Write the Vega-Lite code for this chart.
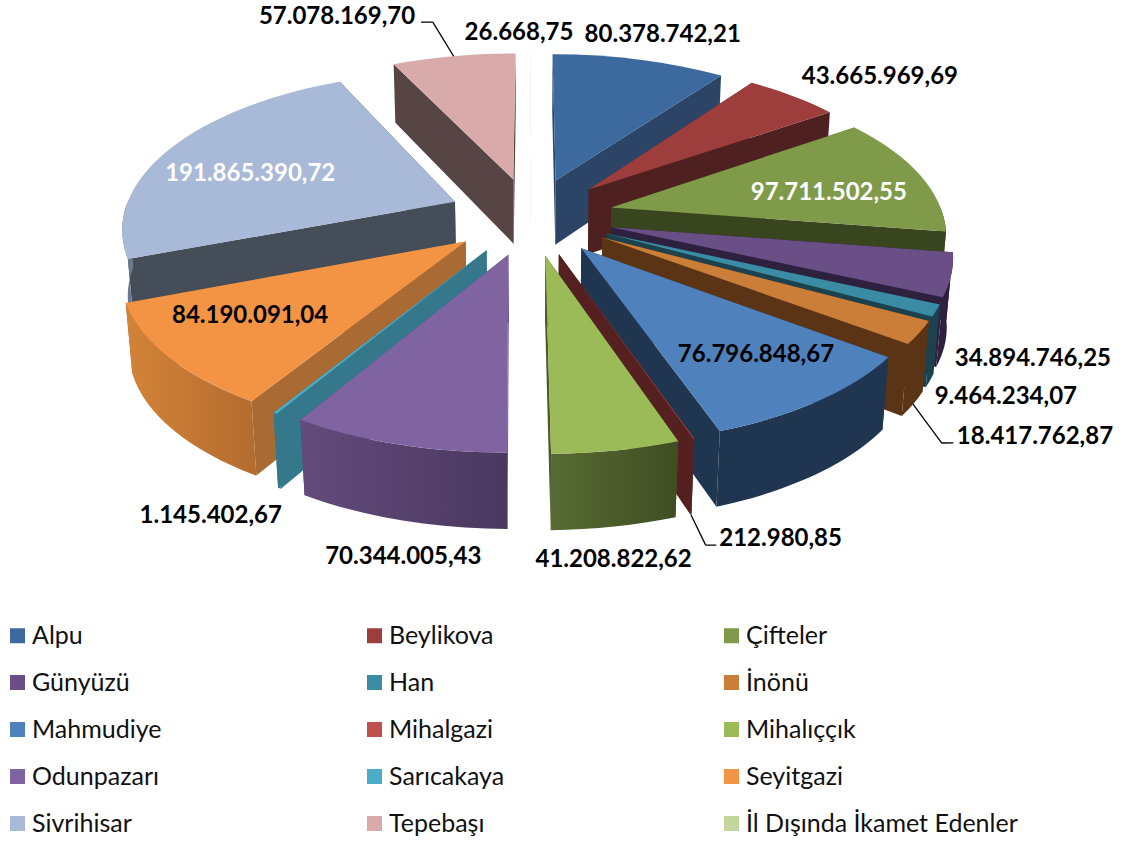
{
"$schema":"https://vega.github.io/schema/vega-lite/v6.json",
"width":1123,"height":841,"padding":0,"autosize":{"type":"none"},
"background":"white",
"view":{"stroke":null},
"params":[
{"name":"Cx","value":531},{"name":"Cy","value":216},{"name":"Rx","value":332},{"name":"Ry","value":155},
{"name":"Pk","value":0.15},{"name":"Qk","value":0.015},{"name":"Hk","value":67},{"name":"Ek","value":0.25},
{"name":"RXA","value":334},{"name":"RYA","value":158.5},
{"name":"Lcx","value":533},{"name":"Lrx","value":334},{"name":"Lry","value":154}
],
"data":{"values":[
{"sira":1,"ilce":"Alpu","deger":80378742.21,"etiket":"80.378.742,21"},
{"sira":2,"ilce":"Beylikova","deger":43665969.69,"etiket":"43.665.969,69"},
{"sira":3,"ilce":"Çifteler","deger":97711502.55,"etiket":"97.711.502,55"},
{"sira":4,"ilce":"Günyüzü","deger":34894746.25,"etiket":"34.894.746,25"},
{"sira":5,"ilce":"Han","deger":9464234.07,"etiket":"9.464.234,07"},
{"sira":6,"ilce":"İnönü","deger":18417762.87,"etiket":"18.417.762,87"},
{"sira":7,"ilce":"Mahmudiye","deger":76796848.67,"etiket":"76.796.848,67"},
{"sira":8,"ilce":"Mihalgazi","deger":212980.85,"etiket":"212.980,85"},
{"sira":9,"ilce":"Mihalıççık","deger":41208822.62,"etiket":"41.208.822,62"},
{"sira":10,"ilce":"Odunpazarı","deger":70344005.43,"etiket":"70.344.005,43"},
{"sira":11,"ilce":"Sarıcakaya","deger":1145402.67,"etiket":"1.145.402,67"},
{"sira":12,"ilce":"Seyitgazi","deger":84190091.04,"etiket":"84.190.091,04"},
{"sira":13,"ilce":"Sivrihisar","deger":191865390.72,"etiket":"191.865.390,72"},
{"sira":14,"ilce":"Tepebaşı","deger":57078169.70,"etiket":"57.078.169,70"},
{"sira":15,"ilce":"İl Dışında İkamet Edenler","deger":26668.75,"etiket":"26.668,75"}
]},
"transform":[
{"joinaggregate":[{"op":"sum","field":"deger","as":"toplam"}]},
{"window":[{"op":"sum","field":"deger","as":"cum"}],"sort":[{"field":"sira","order":"ascending"}]},
{"calculate":"2*PI*datum.cum/datum.toplam","as":"t1"},
{"calculate":"2*PI*(datum.cum-datum.deger)/datum.toplam","as":"t0"},
{"calculate":"(datum.t0+datum.t1)/2","as":"tm"},
{"calculate":"Ek*sin(datum.tm)","as":"ex"},
{"calculate":"Ek*cos(datum.tm)","as":"ey"},
{"calculate":"Cx+Rx*datum.ex/(1+Pk*datum.ey)","as":"ax"},
{"calculate":"Cy-Ry*datum.ey/(1+Pk*datum.ey)","as":"ay"},
{"calculate":"round(10*(Cx+Rx*datum.ex/(1+Pk*datum.ey+Qk)-datum.ax))/10","as":"abx"},
{"calculate":"round(10*(Cy+(Hk-Ry*datum.ey)/(1+Pk*datum.ey+Qk)-datum.ay))/10","as":"aby"},
{"calculate":"clamp(datum.t0,PI/2,3*PI/2)","as":"r0"},
{"calculate":"clamp(datum.t1,PI/2,3*PI/2)","as":"r1"},
{"calculate":"datum.ex+sin(datum.t0)","as":"X0"},{"calculate":"datum.ey+cos(datum.t0)","as":"Y0"},
{"calculate":"datum.ex+sin(datum.t1)","as":"X1"},{"calculate":"datum.ey+cos(datum.t1)","as":"Y1"},
{"calculate":"datum.ex+sin(datum.r0)","as":"XR0"},{"calculate":"datum.ey+cos(datum.r0)","as":"YR0"},
{"calculate":"datum.ex+sin(datum.r1)","as":"XR1"},{"calculate":"datum.ey+cos(datum.r1)","as":"YR1"},
{"calculate":"round(10*(Cx+Rx*datum.X0/(1+Pk*datum.Y0)-datum.ax))/10","as":"px0"},
{"calculate":"round(10*(Cy-Ry*datum.Y0/(1+Pk*datum.Y0)-datum.ay))/10","as":"py0"},
{"calculate":"round(10*(Cx+Rx*datum.X1/(1+Pk*datum.Y1)-datum.ax))/10","as":"px1"},
{"calculate":"round(10*(Cy-Ry*datum.Y1/(1+Pk*datum.Y1)-datum.ay))/10","as":"py1"},
{"calculate":"round(10*(Cx+Rx*datum.X0/(1+Pk*datum.Y0+Qk)-datum.ax))/10","as":"bx0"},
{"calculate":"round(10*(Cy+(Hk-Ry*datum.Y0)/(1+Pk*datum.Y0+Qk)-datum.ay))/10","as":"by0"},
{"calculate":"round(10*(Cx+Rx*datum.X1/(1+Pk*datum.Y1+Qk)-datum.ax))/10","as":"bx1"},
{"calculate":"round(10*(Cy+(Hk-Ry*datum.Y1)/(1+Pk*datum.Y1+Qk)-datum.ay))/10","as":"by1"},
{"calculate":"round(10*(Cx+Rx*datum.XR0/(1+Pk*datum.YR0)-datum.ax))/10","as":"qx0"},
{"calculate":"round(10*(Cy-Ry*datum.YR0/(1+Pk*datum.YR0)-datum.ay))/10","as":"qy0"},
{"calculate":"round(10*(Cx+Rx*datum.XR1/(1+Pk*datum.YR1)-datum.ax))/10","as":"qx1"},
{"calculate":"round(10*(Cy-Ry*datum.YR1/(1+Pk*datum.YR1)-datum.ay))/10","as":"qy1"},
{"calculate":"round(10*(Cx+Rx*datum.XR0/(1+Pk*datum.YR0+Qk)-datum.ax))/10","as":"sx0"},
{"calculate":"round(10*(Cy+(Hk-Ry*datum.YR0)/(1+Pk*datum.YR0+Qk)-datum.ay))/10","as":"sy0"},
{"calculate":"round(10*(Cx+Rx*datum.XR1/(1+Pk*datum.YR1+Qk)-datum.ax))/10","as":"sx1"},
{"calculate":"round(10*(Cy+(Hk-Ry*datum.YR1)/(1+Pk*datum.YR1+Qk)-datum.ay))/10","as":"sy1"},
{"calculate":"'M0,0L'+datum.px0+','+datum.py0+'A'+RXA+','+RYA+' 0 0 1 '+datum.px1+','+datum.py1+'Z'","as":"yuzey"},
{"calculate":"'M0,0L'+datum.px0+','+datum.py0+'L'+datum.bx0+','+datum.by0+'L'+datum.abx+','+datum.aby+'Z'","as":"kesitA"},
{"calculate":"'M0,0L'+datum.px1+','+datum.py1+'L'+datum.bx1+','+datum.by1+'L'+datum.abx+','+datum.aby+'Z'","as":"kesitB"},
{"calculate":"'M'+datum.qx0+','+datum.qy0+'A'+RXA+','+RYA+' 0 0 1 '+datum.qx1+','+datum.qy1+'L'+datum.sx1+','+datum.sy1+'A'+RXA+','+RYA+' 0 0 0 '+datum.sx0+','+datum.sy0+'Z'","as":"kenar"},
{"calculate":"{'Alpu':[1.521,18.1],'Beylikova':[1.605,48.6],'Çifteler':[0.923,79.6],'Günyüzü':[1.543,121.5],'Han':[1.56,129.4],'İnönü':[1.705,133.4],'Mahmudiye':[0.981,143.1],'Mihalgazi':[1.684,160.4],'Mihalıççık':[1.676,173.8],'Odunpazarı':[1.681,190],'Sarıcakaya':[1.676,206.5],'Seyitgazi':[0.967,233.1],'Sivrihisar':[0.934,288.7],'Tepebaşı':[1.78,335.8],'İl Dışında İkamet Edenler':[1.466,358]}[datum.ilce]","as":"lp"},
{"calculate":"datum.lp[0]*sin(datum.lp[1]*PI/180)","as":"lX"},
{"calculate":"datum.lp[0]*cos(datum.lp[1]*PI/180)","as":"lY"},
{"calculate":"Lcx+Lrx*datum.lX/(1+Pk*datum.lY)","as":"lx"},
{"calculate":"Cy-Lry*datum.lY/(1+Pk*datum.lY)","as":"ly"}
],
"encoding":{
"x":{"field":"ax","type":"quantitative","scale":{"domain":[0,1123],"range":[0,1123]},"axis":null},
"y":{"field":"ay","type":"quantitative","scale":{"domain":[0,841],"range":[0,841]},"axis":null}
},
"layer":[
{
"transform":[
{"fold":["kesitA","kesitB","kenar"],"as":["yuz","yol"]},
{"filter":"datum.yuz!='kenar' || datum.r1>datum.r0+0.001"},
{"calculate":"-cos(datum.tm)*100+(datum.yuz=='kenar'?0.5:0)","as":"sirala"},
{"calculate":"{'Alpu':'#2C4566','Beylikova':'#4F2020','Çifteler':'#39451F','Günyüzü':'#2E2140','Han':'#1D414D','İnönü':'#5A3415','Mahmudiye':'#1F3550','Mihalgazi':'#552020','Mihalıççık':'#4B5A28','Odunpazarı':'#55406F','Sarıcakaya':'#35788C','Seyitgazi':'#A96A33','Sivrihisar':'#454D59','Tepebaşı':'#574545','İl Dışında İkamet Edenler':'#58613F'}[datum.ilce]","as":"koyu"},
{"calculate":"{'Çifteler':['#39451F','#39451F'],'Günyüzü':['#2E2140','#2E2140'],'Han':['#1D414D','#1D414D'],'İnönü':['#5A3415','#5A3415'],'Mahmudiye':['#1F3550','#1F3550'],'Mihalgazi':['#552020','#552020'],'Mihalıççık':['#586B34','#3F4D22'],'Odunpazarı':['#634B7C','#4A385F'],'Sarıcakaya':['#35788C','#35788C'],'Seyitgazi':['#D48338','#B26C2F'],'Sivrihisar':['#6A7890','#6A7890'],'Tepebaşı':['#574545','#574545'],'Alpu':['#2C4566','#2C4566'],'Beylikova':['#4F2020','#4F2020'],'İl Dışında İkamet Edenler':['#58613F','#58613F']}[datum.ilce]","as":"ton"},
{"calculate":"datum.yuz=='kenar' ? {gradient:'linear',x1:0,y1:0,x2:1,y2:0,stops:[{offset:0,color:datum.ton[0]},{offset:1,color:datum.ton[1]}]} : datum.koyu","as":"dolgu"}
],
"mark":{"type":"point","filled":true,"size":4,"opacity":1,"strokeWidth":0},
"encoding":{
"shape":{"field":"yol","type":"nominal","scale":null,"legend":null},
"fill":{"field":"dolgu","type":"nominal","scale":null,"legend":null},
"order":{"field":"sirala","type":"quantitative"}
}
},
{
"mark":{"type":"point","filled":true,"size":4,"opacity":1,"strokeWidth":0},
"encoding":{
"shape":{"field":"yuzey","type":"nominal","scale":null,"legend":null},
"color":{"field":"ilce","type":"nominal",
"scale":{"domain":["Alpu","Beylikova","Çifteler","Günyüzü","Han","İnönü","Mahmudiye","Mihalgazi","Mihalıççık","Odunpazarı","Sarıcakaya","Seyitgazi","Sivrihisar","Tepebaşı","İl Dışında İkamet Edenler"],
"range":["#3D6A9E","#9E3E3C","#7F9A48","#6A4E86","#3A8CA5","#CB7E38","#4F81BD","#C0504D","#9BBB59","#8064A2","#4BACC6","#F39444","#A9B9D8","#D9AAAA","#C3D69B"]},
"legend":{"orient":"none","legendX":5,"legendY":623,"title":null,"direction":"horizontal","columns":3,"gridAlign":"all","columnPadding":58,"rowPadding":21,"symbolType":"square","symbolSize":225,"symbolStrokeWidth":0,"labelFont":"Lato","labelFontSize":25,"labelColor":"#111","labelOffset":2,"labelLimit":400,"symbolLimit":20}}
}
},
{
"transform":[
{"filter":"indexof(['Tepebaşı','İnönü','Mihalgazi'],datum.ilce)>=0"},
{"calculate":"{'Tepebaşı':[1.607,345.1],'İnönü':[1.587,139.5],'Mihalgazi':[1.671,165.6]}[datum.ilce]","as":"k1"},
{"calculate":"{'Tepebaşı':[1.596,346.6],'İnönü':[1.569,140.3],'Mihalgazi':[1.665,166.4]}[datum.ilce]","as":"k2"},
{"calculate":"datum.k1[0]*sin(datum.k1[1]*PI/180)","as":"X"},{"calculate":"datum.k1[0]*cos(datum.k1[1]*PI/180)","as":"Y"},
{"calculate":"Lcx+Lrx*datum.X/(1+Pk*datum.Y)","as":"x1"},{"calculate":"Cy-Lry*datum.Y/(1+Pk*datum.Y)","as":"y1"},
{"calculate":"datum.k2[0]*sin(datum.k2[1]*PI/180)","as":"X"},{"calculate":"datum.k2[0]*cos(datum.k2[1]*PI/180)","as":"Y"},
{"calculate":"Lcx+Lrx*datum.X/(1+Pk*datum.Y)","as":"x2"},{"calculate":"Cy-Lry*datum.Y/(1+Pk*datum.Y)","as":"y2"}
],
"mark":{"type":"rule","color":"#000","strokeWidth":1.3},
"encoding":{
"x":{"field":"x1","type":"quantitative"},"y":{"field":"y1","type":"quantitative"},
"x2":{"field":"x2"},"y2":{"field":"y2"}
}
},
{
"transform":[
{"filter":"indexof(['Tepebaşı','İnönü','Mihalgazi'],datum.ilce)>=0"},
{"calculate":"{'Tepebaşı':[1.596,346.6],'İnönü':[1.569,140.3],'Mihalgazi':[1.665,166.4]}[datum.ilce]","as":"k2"},
{"calculate":"datum.k2[0]*sin(datum.k2[1]*PI/180)","as":"X"},{"calculate":"datum.k2[0]*cos(datum.k2[1]*PI/180)","as":"Y"},
{"calculate":"Lcx+Lrx*datum.X/(1+Pk*datum.Y)","as":"x2"},{"calculate":"Cy-Lry*datum.Y/(1+Pk*datum.Y)","as":"y2"},
{"calculate":"datum.ilce=='Tepebaşı'?0:1","as":"Z"},
{"calculate":"datum.ex+sin(datum.tm)","as":"X"},{"calculate":"datum.ey+cos(datum.tm)","as":"Y"},
{"calculate":"Cx+Rx*datum.X/(1+Pk*datum.Y+Qk*datum.Z)","as":"x3"},{"calculate":"Cy+(Hk*datum.Z-Ry*datum.Y)/(1+Pk*datum.Y+Qk*datum.Z)","as":"y3"}
],
"mark":{"type":"rule","color":"#000","strokeWidth":1.3},
"encoding":{
"x":{"field":"x2","type":"quantitative"},"y":{"field":"y2","type":"quantitative"},
"x2":{"field":"x3"},"y2":{"field":"y3"}
}
},
{
"mark":{"type":"text","font":"Lato","fontWeight":"bold","fontSize":24,"align":"center","baseline":"middle","dy":2},
"encoding":{
"x":{"field":"lx","type":"quantitative"},"y":{"field":"ly","type":"quantitative"},
"text":{"field":"etiket","type":"nominal"},
"color":{"condition":{"test":"datum.ilce=='Çifteler'||datum.ilce=='Sivrihisar'","value":"#ffffff"},"value":"#000000"}
}
}
]
}
